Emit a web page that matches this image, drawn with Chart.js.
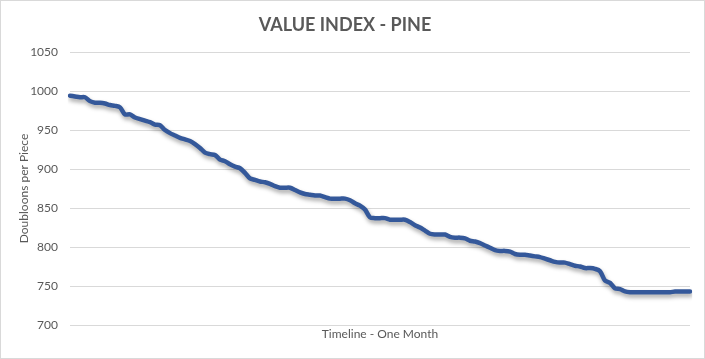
<!DOCTYPE html>
<html>
<head>
<meta charset="utf-8">
<script src="https://cdn.jsdelivr.net/npm/chart.js@4/dist/chart.umd.min.js"></script>
<style>
  html, body { margin: 0; padding: 0; background: #fff; }
  #wrap { width: 705px; height: 359px; position: relative; }
</style>
</head>
<body>
<div id="wrap"><canvas id="c" width="705" height="359"></canvas></div>
<script>
const chartTitle = 'VALUE INDEX - PINE';
const yAxisTitle = 'Doubloons per Piece';
const xAxisTitle = 'Timeline - One Month';
const yTicks = [700, 750, 800, 850, 900, 950, 1000, 1050];

const values = [
  994, 993, 992, 992, 987, 985, 985, 984, 982, 981,
  979, 970, 970, 966, 964, 962, 960, 957, 956, 950,
  946, 943, 940, 938, 936, 932, 927, 921, 919, 918,
  912, 910, 906, 903, 901, 895, 888, 886, 884, 883,
  881, 878, 876, 876, 876, 873, 870, 868, 867, 866,
  866, 864, 862, 862, 862, 862, 860, 856, 853, 848,
  838, 837, 837, 837, 835, 835, 835, 835, 832, 828,
  825, 821, 817, 816, 816, 816, 813, 812, 812, 811,
  808, 807, 805, 802, 799, 796, 795, 795, 794, 791,
  790, 790, 789, 788, 787, 785, 783, 781, 780, 780,
  778, 776, 775, 773, 773, 772, 769, 757, 754, 747,
  746, 743, 742, 742, 742, 742, 742, 742, 742, 742,
  742, 743, 743, 743, 743
];
const categories = values.map((v, i) => String(i + 1));

const FONT = 'Lato, "Open Sans", "Liberation Sans", sans-serif';
const GREY = '#595959';

const borderPlugin = {
  id: 'outerBorder',
  afterDraw(chart) {
    const ctx = chart.ctx;
    ctx.save();
    ctx.strokeStyle = '#d9d9d9';
    ctx.lineWidth = 1;
    ctx.strokeRect(0.5, 0.5, chart.width - 1, chart.height - 1);
    ctx.restore();
  }
};
const shadowPlugin = {
  id: 'lineShadow',
  beforeDatasetDraw(chart) {
    const ctx = chart.ctx;
    ctx.save();
    ctx.shadowColor = 'rgba(0,0,0,0.35)';
    ctx.shadowBlur = 4;
    ctx.shadowOffsetX = 1;
    ctx.shadowOffsetY = 3;
  },
  afterDatasetDraw(chart) {
    chart.ctx.restore();
  }
};

new Chart(document.getElementById('c'), {
  type: 'line',
  data: {
    labels: categories,
    datasets: [{
      data: values,
      borderColor: '#34589A',
      borderWidth: 4.5,
      pointRadius: 0,
      tension: 0.3,
      fill: false,
      borderCapStyle: 'round',
      borderJoinStyle: 'round'
    }]
  },
  options: {
    responsive: false,
    animation: false,
    layout: { padding: { left: 0, right: 15, top: 0, bottom: 0 } },
    plugins: {
      legend: { display: false },
      tooltip: { enabled: false },
      title: {
        display: true,
        text: chartTitle,
        color: GREY,
        font: { family: FONT, size: 18, weight: 'bold', lineHeight: 1.2 },
        padding: { top: 14, bottom: 16.4 }
      }
    },
    scales: {
      x: {
        offset: false,
        grid: { display: false, drawTicks: false },
        border: { display: false },
        ticks: { display: false },
        title: {
          display: true,
          text: xAxisTitle,
          color: GREY,
          font: { family: FONT, size: 12, lineHeight: 1.2 },
          padding: { top: 0, bottom: 17.8 }
        },
        afterFit(scale) { scale.height = 34; }
      },
      y: {
        min: 700,
        max: 1050,
        afterBuildTicks(scale) { scale.ticks = yTicks.map(v => ({ value: v })); },
        grid: { color: '#d9d9d9', lineWidth: 1, drawTicks: false },
        border: { display: false },
        ticks: {
          color: GREY,
          padding: 12,
          font: { family: FONT, size: 12 },
          callback: (v) => String(v)
        },
        title: {
          display: true,
          text: yAxisTitle,
          color: GREY,
          font: { family: FONT, size: 12, lineHeight: 1.2 },
          padding: { top: 17, bottom: 0 }
        },
        afterFit(scale) { scale.width = 70; }
      }
    }
  },
  plugins: [borderPlugin, shadowPlugin]
});
</script>
</body>
</html>
